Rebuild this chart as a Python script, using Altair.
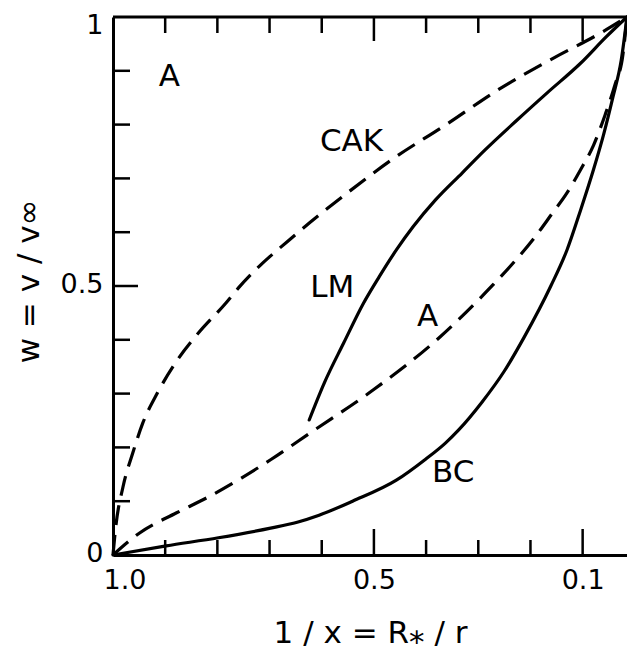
import altair as alt
import pandas as pd

# ---- curve values (x = 1/x = R*/r, y = w = v/v_inf) ----
cak_x = [1.0, 0.995, 0.981, 0.962, 0.943, 0.915, 0.877, 0.836, 0.784, 0.760, 0.646, 0.551, 0.461, 0.363, 0.263, 0.155, 0.066, 0.015]
cak_y = [0.0, 0.050, 0.126, 0.190, 0.245, 0.301, 0.362, 0.413, 0.468, 0.496, 0.599, 0.673, 0.738, 0.799, 0.864, 0.924, 0.970, 1.0]

a_x = [1.0, 0.949, 0.879, 0.817, 0.754, 0.698, 0.622, 0.501, 0.376, 0.272, 0.231, 0.193, 0.159, 0.130, 0.104, 0.079, 0.057, 0.038, 0.023, 0.015]
a_y = [0.0, 0.041, 0.078, 0.108, 0.143, 0.177, 0.227, 0.307, 0.403, 0.502, 0.545, 0.589, 0.634, 0.673, 0.716, 0.762, 0.818, 0.874, 0.929, 1.0]

lm_x = [0.624, 0.595, 0.558, 0.520, 0.490, 0.457, 0.425, 0.382, 0.331, 0.287, 0.225, 0.168, 0.104, 0.055, 0.015]
lm_y = [0.251, 0.320, 0.394, 0.468, 0.517, 0.567, 0.610, 0.660, 0.710, 0.753, 0.809, 0.859, 0.914, 0.963, 1.0]

bc_x = [1.0, 0.898, 0.798, 0.698, 0.647, 0.605, 0.541, 0.457, 0.401, 0.363, 0.338, 0.293, 0.250, 0.212, 0.161, 0.130, 0.104, 0.079, 0.060, 0.042, 0.026, 0.015]
bc_y = [0.0, 0.017, 0.032, 0.050, 0.061, 0.074, 0.100, 0.139, 0.178, 0.208, 0.232, 0.284, 0.342, 0.405, 0.500, 0.567, 0.641, 0.717, 0.781, 0.851, 0.920, 1.0]

# ---- in-plot labels ----
label_text = ["A", "CAK", "LM", "A", "BC"]
label_x = [0.892, 0.543, 0.580, 0.397, 0.348]
label_y = [0.888, 0.768, 0.496, 0.442, 0.152]

# ---- ticks and tick labels ----
x_label_values = [1.0, 0.5, 0.1]
y_label_values = [0, 0.5, 1]
x_minor = [0.9, 0.8, 0.7, 0.6, 0.4, 0.3, 0.2]
x_major = [0.5, 0.1]
y_minor = [0.1, 0.2, 0.3, 0.4, 0.6, 0.7, 0.8, 0.9]
y_major = [0.5]

W, H = 514, 538
FONT = "DejaVu Sans"


def series(name, xs, ys, style):
    return pd.DataFrame({"x": xs, "y": ys, "series": name, "style": style,
                         "i": list(range(len(xs)))})


curves = pd.concat([
    series("CAK", cak_x, cak_y, "dashed"),
    series("A", a_x, a_y, "dashed"),
    series("LM", lm_x, lm_y, "solid"),
    series("BC", bc_x, bc_y, "solid"),
])

xscale = alt.Scale(domain=[1.0, 0.015], nice=False, zero=False)
yscale = alt.Scale(domain=[0, 1], nice=False, zero=False)

x_axis = alt.Axis(values=x_label_values, format=".1f", ticks=False, grid=False,
                  domainColor="black", domainWidth=3,
                  labelFont=FONT, labelFontSize=27, labelColor="black", labelPadding=12,
                  labelFlush=True, labelFlushOffset=10,
                  title="1 / x  =  R\u204e / r", titleFont=FONT, titleFontSize=31,
                  titleFontWeight="normal", titleColor="black",
                  titleBaseline="alphabetic", titleY=87)
y_axis = alt.Axis(values=y_label_values, format="~g", ticks=False, grid=False,
                  domainColor="black", domainWidth=3,
                  labelFont=FONT, labelFontSize=27, labelColor="black", labelPadding=10,
                  labelBaseline="middle",
                  labelOffset={"condition": {"test": "datum.value == 1", "value": 8}, "value": -2},
                  title="w  =  v / v\u221e", titleFont=FONT, titleFontSize=31,
                  titleFontWeight="normal", titleColor="black",
                  titleX=-84, titleY=264, titleAlign="center", titleBaseline="middle")

X = lambda f: alt.X(f, scale=xscale, axis=x_axis)
Y = lambda f: alt.Y(f, scale=yscale, axis=y_axis)

solid = alt.Chart(curves).transform_filter(alt.datum.style == "solid").mark_line(
    color="black", strokeWidth=3.2, interpolate="monotone", strokeCap="round"
).encode(x=X("x:Q"), y=Y("y:Q"), detail="series:N", order="i:Q")

dashed = alt.Chart(curves).transform_filter(alt.datum.style == "dashed").mark_line(
    color="black", strokeWidth=3.2, interpolate="monotone", strokeDash=[20, 10], strokeCap="butt"
).encode(x=X("x:Q"), y=Y("y:Q"), detail="series:N", order="i:Q")

labels = alt.Chart(pd.DataFrame({"t": label_text, "x": label_x, "y": label_y})).mark_text(
    font=FONT, fontSize=31, color="black", align="center", baseline="middle"
).encode(x=X("x:Q"), y=Y("y:Q"), text="t:N")


def xticks(vals, y0, y1):
    return alt.Chart(pd.DataFrame({"x": vals})).mark_rule(color="black", strokeWidth=2.5).encode(
        x=X("x:Q"), y=alt.value(y0), y2=alt.value(y1))


def yticks(vals, x0, x1):
    return alt.Chart(pd.DataFrame({"y": vals})).mark_rule(color="black", strokeWidth=2.5).encode(
        y=Y("y:Q"), x=alt.value(x0), x2=alt.value(x1))


top_line = alt.Chart(pd.DataFrame({"v": [0]})).mark_rule(color="black", strokeWidth=3).encode(
    x=alt.value(0), x2=alt.value(W), y=alt.value(0))

chart = alt.layer(
    solid, dashed, labels,
    xticks(x_minor, H, H - 15), xticks(x_major, H, H - 26),
    xticks(x_minor, 0, 16), xticks(x_major, 0, 24),
    yticks(y_minor, 0, 17), yticks(y_major, 0, 25),
    top_line,
).properties(
    width=W, height=H,
    padding={"left": 105, "top": 9, "right": 0, "bottom": 94},
    autosize=alt.AutoSizeParams(type="none"),
    background="white",
).configure_view(stroke=None)

chart.save("out.html", embed_options={"renderer": "svg", "actions": False})
